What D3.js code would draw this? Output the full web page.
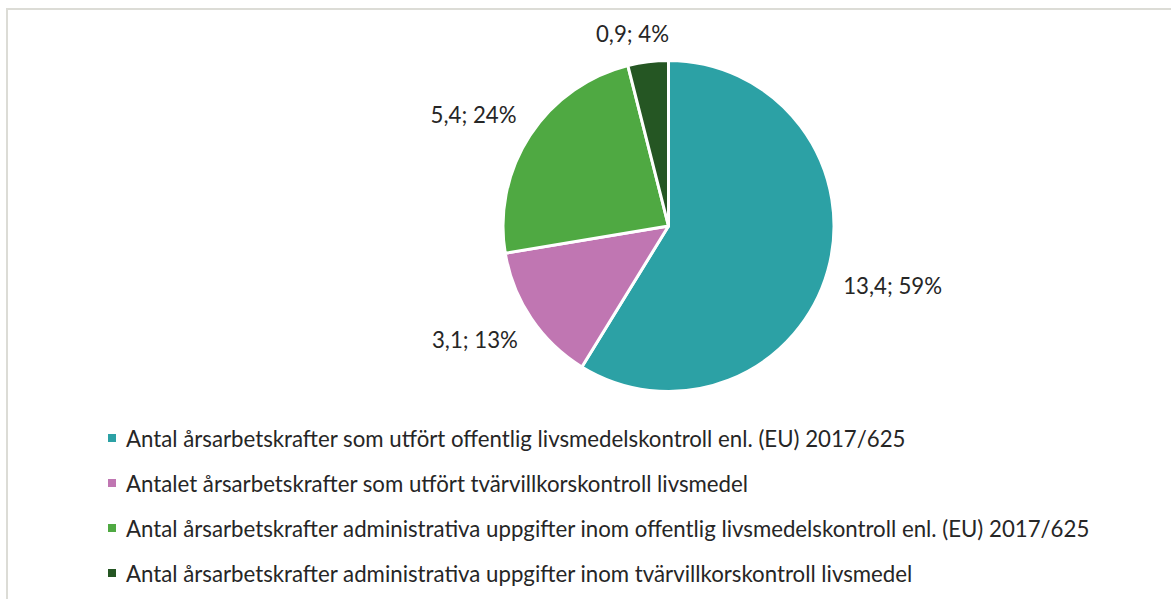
<!DOCTYPE html>
<html>
<head>
<meta charset="utf-8">
<script src="https://d3js.org/d3.v7.min.js"></script>
<style>
  body { margin: 0; background: #fff; }
  svg text { font-family: Lato, "Open Sans", sans-serif; fill: #262626; }
</style>
</head>
<body>
<svg id="chart" width="1171" height="599"></svg>
<script>
// data
const categories = [
  "Antal årsarbetskrafter som utfört offentlig livsmedelskontroll enl. (EU) 2017/625",
  "Antalet årsarbetskrafter som utfört tvärvillkorskontroll livsmedel",
  "Antal årsarbetskrafter administrativa uppgifter inom offentlig livsmedelskontroll enl. (EU) 2017/625",
  "Antal årsarbetskrafter administrativa uppgifter inom tvärvillkorskontroll livsmedel"
];
const values = [13.4, 3.1, 5.4, 0.9];
const percents = [59, 13, 24, 4];
const colors = ["#2ca1a5", "#c076b2", "#4fa942", "#255623"];

const svg = d3.select("#chart");

// chart frame
svg.append("path")
  .attr("d", "M7,600 V9 H1171")
  .attr("fill", "none")
  .attr("stroke", "#dcdcd6")
  .attr("stroke-width", 2);

const cx = 668.5, cy = 226, r = 165.5;

const pie = d3.pie().sort(null).value(d => d)(values);
const arc = d3.arc().innerRadius(0).outerRadius(r);

const g = svg.append("g").attr("transform", `translate(${cx},${cy})`);

g.selectAll("path.slice")
  .data(pie)
  .enter().append("path")
  .attr("class", "slice")
  .attr("d", arc)
  .attr("fill", (d, i) => colors[i])
  .attr("stroke", "#fff")
  .attr("stroke-width", 3)
  .attr("stroke-linejoin", "round");

// font size fitted so the first legend line spans about 780px
const probe = svg.append("text").attr("font-size", 19).text(categories[0]);
const fs = 19 * 780 / probe.node().getComputedTextLength();
probe.remove();

// outside-end data labels: nearest corner of the label box sits on the ray
const fmt = v => String(v).replace(".", ",");
const clamp = v => Math.max(-1, Math.min(1, v));
g.selectAll("text.lbl")
  .data(pie)
  .enter().append("text")
  .attr("class", "lbl")
  .attr("font-size", fs)
  .attr("text-anchor", "middle")
  .attr("dominant-baseline", "central")
  .text((d, i) => fmt(values[i]) + "; " + percents[i] + "%")
  .each(function(d) {
    const a = (d.startAngle + d.endAngle) / 2;
    const w = this.getComputedTextLength(), h = fs * 1.1;
    const rr = r + 16;
    const sx = Math.sin(a), sy = -Math.cos(a);
    const x = sx * rr + clamp(sx * 3) * w / 2;
    const y = sy * rr + clamp(sy * 3) * h / 2;
    d3.select(this).attr("x", x).attr("y", y);
  });

// legend
const legY = d3.scalePoint().domain(d3.range(categories.length)).range([438, 573]);
const leg = svg.append("g").selectAll("g")
  .data(categories)
  .enter().append("g")
  .attr("transform", (d, i) => `translate(108,${legY(i)})`);

leg.append("rect")
  .attr("x", 0).attr("y", -4)
  .attr("width", 8).attr("height", 8)
  .attr("fill", (d, i) => colors[i]);

leg.append("text")
  .attr("x", 18)
  .attr("y", 0)
  .attr("dominant-baseline", "central")
  .attr("font-size", fs)
  .text(d => d);
</script>
</body>
</html>
